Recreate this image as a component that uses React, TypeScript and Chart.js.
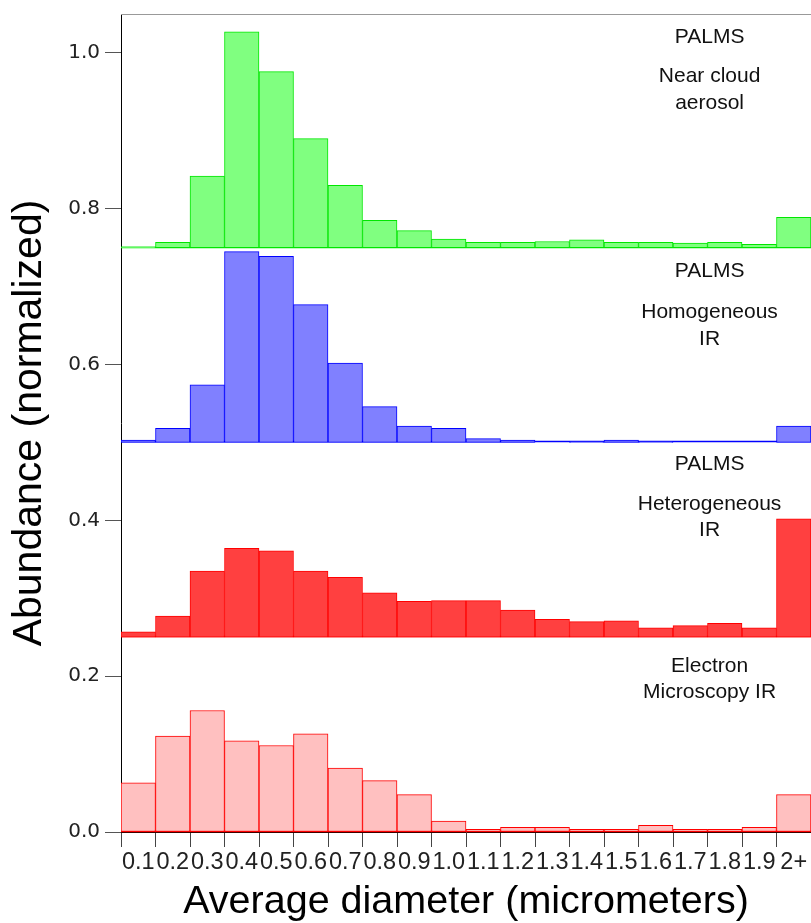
import React, { useEffect, useRef } from "react";
import { Chart, registerables } from "chart.js";

Chart.register(...registerables);

// ---- data ----
const categories = ["0.1", "0.2", "0.3", "0.4", "0.5", "0.6", "0.7", "0.8", "0.9", "1.0", "1.1", "1.2", "1.3", "1.4", "1.5", "1.6", "1.7", "1.8", "1.9", "2+"];

const nearCloudAerosol = [0.001, 0.007, 0.092, 0.277, 0.226, 0.14, 0.08, 0.035, 0.022, 0.011, 0.007, 0.007, 0.008, 0.01, 0.007, 0.007, 0.006, 0.007, 0.0045, 0.039];
const homogeneousIR = [0.003, 0.018, 0.074, 0.245, 0.239, 0.177, 0.102, 0.046, 0.021, 0.018, 0.005, 0.003, 0, 0.001, 0.003, 0.001, 0, 0, 0, 0.021];
const heterogeneousIR = [0.007, 0.027, 0.085, 0.114, 0.111, 0.085, 0.077, 0.057, 0.046, 0.047, 0.047, 0.035, 0.023, 0.02, 0.021, 0.012, 0.015, 0.018, 0.012, 0.152];
const electronMicroscopyIR = [0.063, 0.123, 0.156, 0.117, 0.111, 0.126, 0.082, 0.066, 0.048, 0.014, 0.0034, 0.006, 0.006, 0.0034, 0.0034, 0.0086, 0.0034, 0.0034, 0.006, 0.048];

const seriesOffsets = [0.75, 0.5, 0.25, 0];
const yTickValues = [0, 0.2, 0.4, 0.6, 0.8, 1.0];

const panelLabels = [
  { text: "PALMS", y: 1.02 },
  { text: "Near cloud", y: 0.97 },
  { text: "aerosol", y: 0.935 },
  { text: "PALMS", y: 0.72 },
  { text: "Homogeneous", y: 0.667 },
  { text: "IR", y: 0.633 },
  { text: "PALMS", y: 0.472 },
  { text: "Heterogeneous", y: 0.421 },
  { text: "IR", y: 0.387 },
  { text: "Electron", y: 0.2125 },
  { text: "Microscopy IR", y: 0.18 },
];

const seriesStyles = [
  { label: "PALMS Near cloud aerosol", fill: "rgb(128,255,128)", stroke: "rgb(0,230,0)" },
  { label: "PALMS Homogeneous IR", fill: "rgb(128,128,255)", stroke: "rgb(0,0,255)" },
  { label: "PALMS Heterogeneous IR", fill: "rgb(255,64,64)", stroke: "rgb(255,0,0)" },
  { label: "Electron Microscopy IR", fill: "rgb(255,192,192)", stroke: "rgb(255,0,0)" },
];

const allSeries = [nearCloudAerosol, homogeneousIR, heterogeneousIR, electronMicroscopyIR];

const baselinePlugin = {
  id: "baselines",
  beforeDatasetsDraw(chart: any) {
    const { ctx, chartArea, scales } = chart;
    ctx.save();
    seriesOffsets.forEach((off, i) => {
      const y = Math.round(scales.y.getPixelForValue(off)) - 0.5;
      ctx.strokeStyle = seriesStyles[i].stroke;
      ctx.lineWidth = 1.5;
      ctx.beginPath();
      ctx.moveTo(chartArea.left, y);
      ctx.lineTo(chartArea.right, y);
      ctx.stroke();
    });
    // top frame line
    ctx.strokeStyle = "#999";
    ctx.lineWidth = 1;
    ctx.beginPath();
    ctx.moveTo(chartArea.left, chartArea.top + 0.5);
    ctx.lineTo(chartArea.right, chartArea.top + 0.5);
    ctx.stroke();
    ctx.restore();
  },
  afterDatasetsDraw(chart: any) {
    const { ctx, chartArea, scales } = chart;
    ctx.save();
    ctx.fillStyle = "#111";
    ctx.font = "21px 'Liberation Sans', Arial, sans-serif";
    ctx.textAlign = "center";
    ctx.textBaseline = "middle";
    const x = chartArea.left + 0.853 * (chartArea.right - chartArea.left);
    panelLabels.forEach((p) => {
      ctx.fillText(p.text, x, scales.y.getPixelForValue(p.y));
    });
    ctx.restore();
  },
};

export default function App() {
  const ref = useRef<HTMLCanvasElement | null>(null);
  useEffect(() => {
    if (!ref.current) return;
    const datasets = allSeries.map((vals, i) => ({
      label: seriesStyles[i].label,
      data: vals.map((v) => [seriesOffsets[i], seriesOffsets[i] + v]),
      backgroundColor: seriesStyles[i].fill,
      borderColor: seriesStyles[i].stroke,
      borderWidth: 1,
      borderSkipped: false,
      grouped: false,
      barPercentage: 1,
      categoryPercentage: 1,
    }));
    const chart = new Chart(ref.current, {
      type: "bar",
      data: { labels: categories, datasets },
      plugins: [baselinePlugin],
      options: {
        responsive: false,
        animation: false,
        layout: { padding: { top: 14, right: 0, bottom: 0, left: 0 } },
        plugins: { legend: { display: false }, tooltip: { enabled: false } },
        scales: {
          x: {
            offset: true,
            afterFit: (s: any) => {
              s.height = 91;
              s.paddingLeft = 0;
              s.paddingRight = 0;
            },
            grid: { offset: true, drawOnChartArea: false, drawTicks: true, tickLength: 15, color: "#444" },
            border: { display: true, color: "#000", width: 1 },
            ticks: {
              autoSkip: false,
              maxRotation: 0,
              minRotation: 0,
              padding: 1,
              color: "#222",
              font: { family: "'Liberation Sans', Arial, sans-serif", size: 23.5 },
            },
            title: {
              display: true,
              text: "Average diameter (micrometers)",
              color: "#000",
              font: { family: "'Liberation Sans', Arial, sans-serif", size: 39.5, lineHeight: 1 },
              padding: { top: 0, bottom: 1 },
            },
          },
          y: {
            min: 0,
            max: 1.05,
            afterFit: (s: any) => {
              s.width = 121;
              s.paddingTop = 0;
              s.paddingBottom = 0;
            },
            afterBuildTicks: (s: any) => {
              s.ticks = yTickValues.map((v) => ({ value: v }));
            },
            grid: { drawOnChartArea: false, drawTicks: true, tickLength: 16, color: "#555" },
            border: { display: true, color: "#000", width: 1 },
            ticks: {
              padding: 5,
              color: "#222",
              font: { family: "'DejaVu Sans', sans-serif", size: 20 },
              callback: (v: any) => Number(v).toFixed(1),
            },
            title: {
              display: true,
              text: "Abundance (normalized)",
              color: "#000",
              font: { family: "'Liberation Sans', Arial, sans-serif", size: 41, lineHeight: 1.2 },
              padding: { top: 5, bottom: 0 },
            },
          },
        },
      } as any,
    });
    return () => chart.destroy();
  }, []);
  return (
    <div style={{ position: "absolute", left: 0, top: 0, width: 811, height: 923, background: "#fff" }}>
      <canvas ref={ref} width={811} height={923} style={{ display: "block" }} />
    </div>
  );
}
